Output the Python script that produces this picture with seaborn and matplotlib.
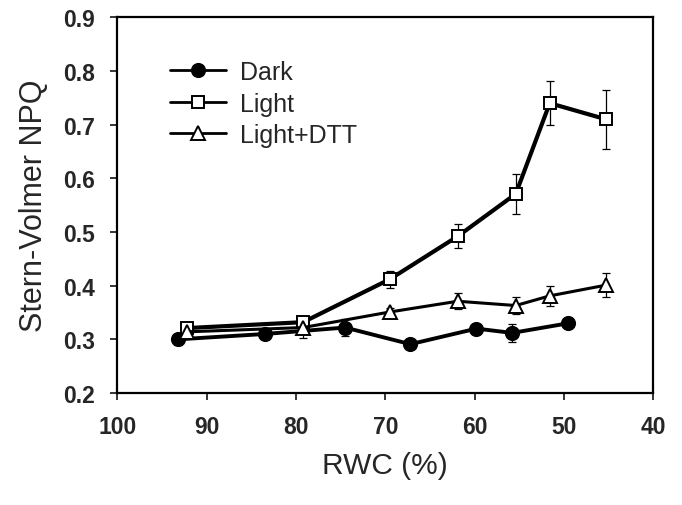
import numpy as np
import pandas as pd
import matplotlib
matplotlib.use('Agg')
import matplotlib.pyplot as plt
import seaborn as sns

# valores
rwc_dark = [93.2, 83.5, 74.5, 67.2, 59.8, 55.8, 49.5]
npq_dark = [0.300, 0.310, 0.322, 0.291, 0.320, 0.312, 0.330]
err_dark = [0.010, 0.006, 0.015, 0.004, 0.006, 0.017, 0.004]

rwc_light = [92.2, 79.2, 69.5, 61.9, 55.4, 51.6, 45.3]
npq_light = [0.321, 0.332, 0.412, 0.492, 0.571, 0.740, 0.710]
err_light = [0.008, 0.008, 0.016, 0.022, 0.038, 0.041, 0.055]

rwc_dtt = [92.2, 79.2, 69.5, 61.9, 55.4, 51.6, 45.3]
npq_dtt = [0.314, 0.322, 0.351, 0.371, 0.363, 0.381, 0.401]
err_dtt = [0.010, 0.020, 0.008, 0.015, 0.015, 0.019, 0.022]

etiquetas = ['Dark', 'Light', 'Light+DTT']
y_ticks = [0.2, 0.3, 0.4, 0.5, 0.6, 0.7, 0.8, 0.9]
x_ticks = [100, 90, 80, 70, 60, 50, 40]

sns.set_style('ticks')
plt.rcParams['font.family'] = ['Liberation Sans', 'DejaVu Sans']

fig = plt.figure(figsize=(6.82, 5.06), dpi=100)
ax = fig.add_axes([0.172, 0.2213, 0.786, 0.7425])

series = [
    (rwc_dark, npq_dark, err_dark, 'o', 'black', 9.5, 2.8),
    (rwc_light, npq_light, err_light, 's', 'white', 8.5, 3.0),
    (rwc_dtt, npq_dtt, err_dtt, '^', 'white', 9.5, 2.2),
]
for (xs, ys, es, mk, fc, ms, lw), lab in zip(series, etiquetas):
    df = pd.DataFrame({'rwc': xs, 'npq': ys})
    ax.errorbar(xs, ys, yerr=es, fmt='none', ecolor='black', elinewidth=0.9,
                capsize=3, capthick=0.9, zorder=1.5)
    sns.lineplot(data=df, x='rwc', y='npq', ax=ax, sort=False, color='black',
                 marker=mk, mfc=fc, mec='black', mew=1.4, ms=ms, lw=lw,
                 label=lab, zorder=3)

ax.set_xlim(100, 40)
ax.set_ylim(0.2, 0.9)
ax.set_xticks(x_ticks)
ax.set_yticks(y_ticks)
ax.set_xticklabels([str(v) for v in x_ticks], fontsize=16.5, fontweight='bold')
ax.set_yticklabels(['%.1f' % v for v in y_ticks], fontsize=16.5, fontweight='bold')
ax.tick_params(direction='out', length=5, width=1.3)
ax.tick_params(axis='x', pad=11)
ax.tick_params(axis='y', pad=11)
for s in ax.spines.values():
    s.set_linewidth(1.6)
    s.set_color('black')

ax.set_xlabel('RWC (%)', fontsize=21.5, labelpad=9)
ax.set_ylabel('Stern-Volmer NPQ', fontsize=22, labelpad=10)

leg = ax.legend(loc='upper left', bbox_to_anchor=(0.249, 0.879),
                bbox_transform=fig.transFigure, frameon=False, fontsize=18,
                handlelength=2.24, handletextpad=0.56, labelspacing=0.3,
                borderpad=0, borderaxespad=0)
for h in leg.legend_handles:
    h.set_linewidth(2.0)

fig.savefig('out.png', dpi=100)
